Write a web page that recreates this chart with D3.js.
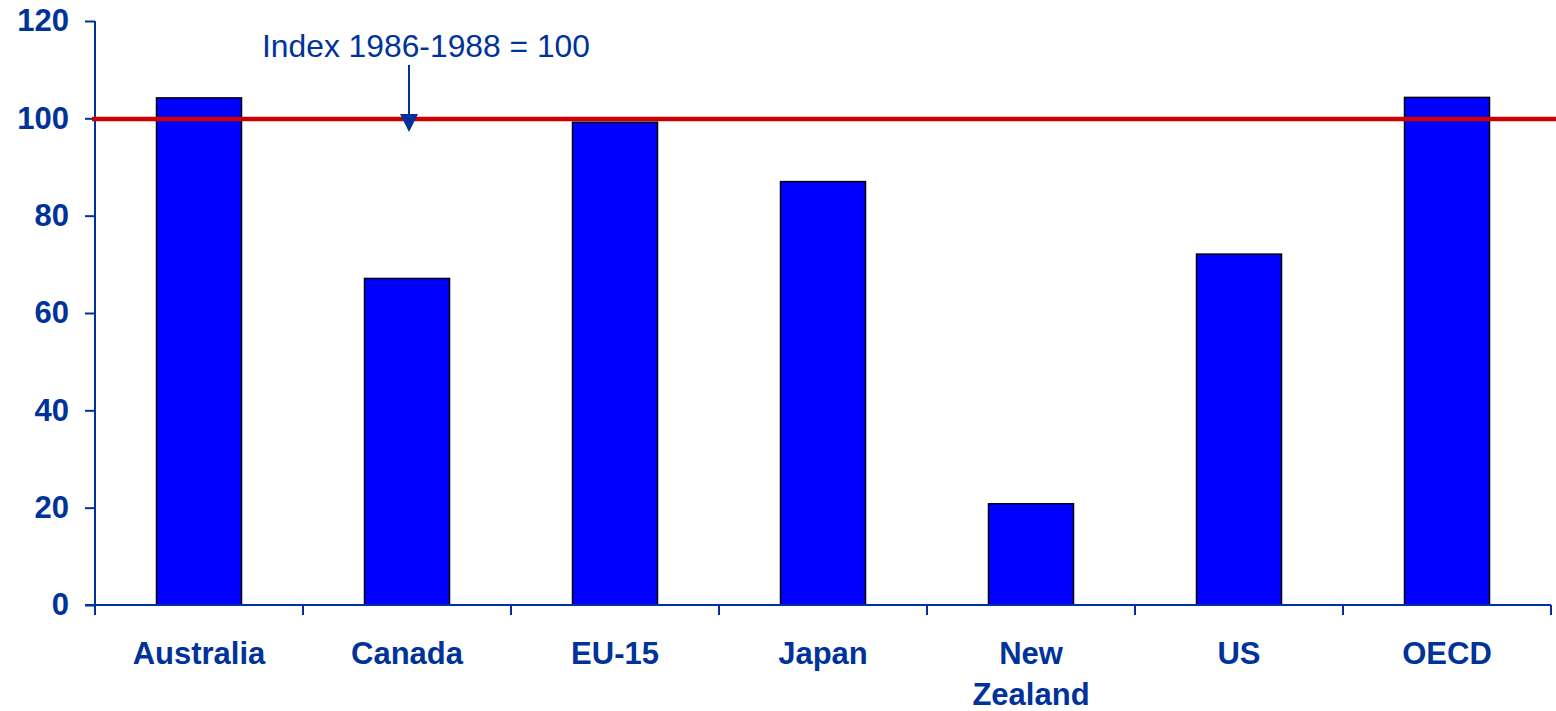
<!DOCTYPE html>
<html>
<head>
<meta charset="utf-8">
<script src="https://cdn.jsdelivr.net/npm/d3@7"></script>
<style>
  html, body { margin: 0; padding: 0; background: #ffffff; }
  svg { display: block; }
  text { font-family: Arial, "Liberation Sans", sans-serif; }
</style>
</head>
<body>
<svg id="chart" width="1556" height="711"></svg>
<script>
const categories = ["Australia", "Canada", "EU-15", "Japan", "New Zealand", "US", "OECD"];
const values = [104.2, 67.1, 99.2, 87, 20.8, 72.1, 104.3];
const yTicks = [0, 20, 40, 60, 80, 100, 120];
const referenceValue = 100;
const annotationText = "Index 1986-1988 = 100";

const W = 1556, H = 711;
const axisColor = "#003399";
const svg = d3.select("#chart");

const x = d3.scaleBand().domain(categories).range([95, 1551]).paddingInner(0).paddingOuter(0);
const y = d3.scaleLinear().domain([0, 120]).range([605, 21]);
const barW = 85;

// Bars
svg.append("g").selectAll("rect")
  .data(categories)
  .join("rect")
  .attr("x", (d) => x(d) + x.bandwidth() / 2 - barW / 2)
  .attr("y", (d, i) => y(values[i]))
  .attr("width", barW)
  .attr("height", (d, i) => y(0) - y(values[i]))
  .attr("fill", "#0000ff")
  .attr("stroke", "#000000")
  .attr("stroke-width", 1.5);

// Y axis
const yAxis = svg.append("g").attr("transform", "translate(95,0)")
  .call(d3.axisLeft(y).tickValues(yTicks).tickSize(10).tickPadding(16).tickSizeOuter(0));
yAxis.select(".domain").attr("stroke", axisColor).attr("stroke-width", 2)
  .attr("d", `M0,${y(120)}V614`);
yAxis.selectAll(".tick line").attr("stroke", axisColor).attr("stroke-width", 2);
yAxis.selectAll(".tick text")
  .attr("fill", axisColor).attr("font-size", 31).attr("font-weight", "bold")
  .attr("font-family", "Arial, 'Liberation Sans', sans-serif");

// X axis (boundary ticks)
const xAxisG = svg.append("g").attr("transform", `translate(0,${y(0)})`);
xAxisG.append("path")
  .attr("d", `M85,0H1551`)
  .attr("stroke", axisColor).attr("stroke-width", 2).attr("fill", "none");
const boundaries = categories.map((c) => x(c)).concat([x(categories[categories.length - 1]) + x.bandwidth()]);
xAxisG.selectAll("line.b")
  .data(boundaries)
  .join("line")
  .attr("class", "b")
  .attr("x1", (d) => d).attr("x2", (d) => d)
  .attr("y1", 0).attr("y2", 10)
  .attr("stroke", axisColor).attr("stroke-width", 2);

// Category labels
const labels = xAxisG.selectAll("text.cat")
  .data(categories)
  .join("text")
  .attr("class", "cat")
  .attr("x", (d) => x(d) + x.bandwidth() / 2)
  .attr("y", 59)
  .attr("text-anchor", "middle")
  .attr("fill", axisColor)
  .attr("font-size", 31)
  .attr("font-weight", "bold");
labels.each(function (d) {
  const parts = d === "New Zealand" ? ["New", "Zealand"] : [d];
  const t = d3.select(this);
  parts.forEach((p, i) => {
    t.append("tspan").attr("x", x(d) + x.bandwidth() / 2).attr("dy", i === 0 ? 0 : 41).text(p);
  });
});

// Reference line
svg.append("line")
  .attr("x1", 92).attr("x2", W)
  .attr("y1", y(referenceValue) + 0.7).attr("y2", y(referenceValue) + 0.7)
  .attr("stroke", "#cc0000").attr("stroke-width", 4.5);

// Annotation
const arrowX = x("Canada") + x.bandwidth() / 2 + 2;
svg.append("text")
  .attr("x", 262).attr("y", 57)
  .attr("fill", axisColor)
  .attr("font-size", 31.8)
  .text(annotationText);
svg.append("line")
  .attr("x1", arrowX).attr("x2", arrowX)
  .attr("y1", 65).attr("y2", 116)
  .attr("stroke", axisColor).attr("stroke-width", 2);
svg.append("path")
  .attr("d", `M${arrowX - 9},114L${arrowX + 9},114L${arrowX},132Z`)
  .attr("fill", axisColor);
</script>
</body>
</html>
